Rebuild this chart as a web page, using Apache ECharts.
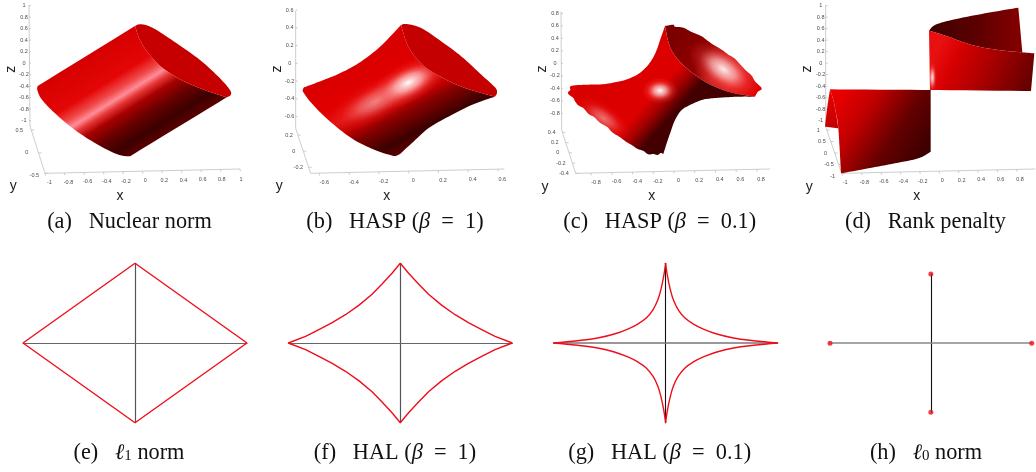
<!DOCTYPE html>
<html><head><meta charset="utf-8">
<style>html,body{margin:0;padding:0;background:#fff}#chart{width:1036px;height:472px;filter:blur(0.35px)}</style>
<script src="https://cdn.jsdelivr.net/npm/echarts@6/dist/echarts.min.js"></script>
</head><body><div id="chart"></div>
<script>
// ---------- caption text ----------
const captions = [
  '{n|(a)   Nuclear norm}', '{n|(b)   HASP (}{i|β}{n|  =  1)}', '{n|(c)   HASP (}{i|β}{n|  =  0.1)}', '{n|(d)   Rank penalty}',
  '{n|(e)   }{i|ℓ}{s|1}{n| norm}', '{n|(f)   HAL (}{i|β}{n|  =  1)}', '{n|(g)   HAL (}{i|β}{n|  =  0.1)}', '{n|(h)   }{i|ℓ}{s|0}{n| norm}'
];
// ---------- tick labels of the four 3D panels ----------
const zTicksA = ['1','0.8','0.6','0.4','0.2','0','-0.2','-0.4','-0.6','-0.8','-1'];
const yTicksA = ['0.5','0','-0.5'];
const xTicksA = ['-1','-0.8','-0.6','-0.4','-0.2','0','0.2','0.4','0.6','0.8','1'];
const zTicksB = ['0.6','0.4','0.2','0','-0.2','-0.4','-0.6'];
const yTicksB = ['0.2','0','-0.2'];
const xTicksB = ['-0.6','-0.4','-0.2','0','0.2','0.4','0.6'];
const zTicksC = ['0.8','0.6','0.4','0.2','0','-0.2','-0.4','-0.6','-0.8'];
const yTicksC = ['0.4','0.2','0','-0.2','-0.4'];
const xTicksC = ['-0.8','-0.6','-0.4','-0.2','0','0.2','0.4','0.6','0.8'];
const zTicksD = ['1','0.8','0.6','0.4','0.2','0','-0.2','-0.4','-0.6','-0.8','-1'];
const yTicksD = ['1','0.5','0','-0.5','-1'];
const xTicksD = ['-1','-0.8','-0.6','-0.4','-0.2','0','0.2','0.4','0.6','0.8'];

// ---------- traced surface outlines (panel units); each outline is a list of arcs ----------
const capLowA = [[405,78],[425,130],[470,188],[530,232],[600,265],[680,292]];
const lateralA = [[[113,258],[405,78]], capLowA, [[680,292],[398,464]],
  [[398,464],[385,469],[350,462],[290,432],[225,390],[165,340],[125,298],[112,270],[113,258]]];
const capA = [[[405,78],[418,73],[440,76],[470,90],[530,130],[600,180],[660,235],[690,270],[692,285],[680,292]], capLowA.slice().reverse()];

const capLowB = [[408,75],[430,140],[470,192],[530,232],[600,264],[690,290]];
const lateralB = [[[117,262],[160,246],[220,222],[280,190],[340,145],[380,105],[408,75]], capLowB,
  [[690,290],[620,315],[550,350],[490,385],[440,430],[405,462]],
  [[405,462],[390,468],[375,465],[330,450],[260,415],[190,360],[140,310],[117,280],[113,270],[117,262]]];
const capB = [[[408,75],[425,72],[470,85],[530,125],[590,170],[650,225],[690,262],[696,278],[690,290]], capLowB.slice().reverse()];

const capLowC = [[420,78],[430,125],[445,160],[480,200],[540,245],[610,275],[690,290]];
const lateralC = [[[130,275],[136,270],[135,260],[150,256],[190,254],[230,253],[270,247],[300,240],[335,225],[360,205],[380,180],[395,150],[407,115],[420,78]], capLowC,
  [[690,290],[645,290],[600,292],[560,295],[530,300],[495,315],[470,330],[450,360],[437,395],[425,430],[415,462]],
  [[415,462],[407,459],[398,465],[385,462],[370,463],[354,452],[338,447],[320,435],[303,425],[284,411],[262,397],[247,381],[226,369],[207,351],[191,342],[176,325],[160,316],[150,304],[145,294],[130,282],[130,275]]];
const capC = [[[420,78],[445,74],[450,80],[475,83],[500,96],[530,109],[560,131],[590,149],[610,164],[628,175],[650,198],[662,211],[680,227],[690,244],[710,265],[698,276],[690,290]], capLowC.slice().reverse()];

const sheetEdgeD = [[432,92],[450,97],[490,110],[560,135],[640,150],[712,157]];
const backTipD = [[[135,268],[127,320],[120,380]], [[120,380],[160,385]], [[160,385],[153,340],[145,300],[135,268]]];
const frontLeftD = [[[135,268],[437,270]], [[437,270],[437,455]], [[437,455],[400,475],[330,490],[250,505],[168,520]], [[168,520],[160,385],[153,340],[145,300],[135,268]]];
const backRightD = [[[432,92],[450,75],[500,60],[600,40],[700,23]], [[700,23],[712,157]], sheetEdgeD.slice().reverse()];
const frontRightD = [sheetEdgeD, [[712,157],[748,160]], [[748,160],[738,273]], [[738,273],[435,270]], [[435,270],[432,92]]];

// ---------- bottom row curves, first quadrant ----------
const l1Quadrant = [[0,1],[1,0]];
const halOneQuadrant = [[0,1],[0.074,0.875],[0.163,0.74],[0.252,0.612],[0.371,0.472],[0.49,0.355],[0.608,0.255],[0.727,0.167],[0.846,0.083],[1,0]];
const halTenthQuadrant = [[0,1],[0.015,0.854],[0.039,0.688],[0.069,0.542],[0.113,0.417],[0.173,0.3125],[0.248,0.2375],[0.337,0.175],[0.457,0.1125],[0.606,0.0625],[0.785,0.029],[1,0]];
const l0Points = [[-1,0],[1,0],[0,1],[0,-1]];

// ---------- shading (styles) ----------
const stopsOf = a => a.map(s => ({offset:s[0], color:s[1]}));
const glow = (c,rx,ry,deg,alpha) => ({ellipse:c, rx:rx, ry:ry, deg:deg, stops:[[0,'rgba(255,255,255,'+alpha+')'],[0.35,'rgba(255,190,190,'+(alpha*0.75)+')'],[0.7,'rgba(255,90,90,'+(alpha*0.25)+')'],[1,'rgba(255,60,60,0)']]});

const panelA = [
  {outline:lateralA, fill:{a:[112,262], b:[283,537], stops:[[0,'#d60000'],[0.3,'#e40606'],[0.41,'#f04848'],[0.48,'#ff8d98'],[0.54,'#e63636'],[0.62,'#a80000'],[0.75,'#680000'],[0.89,'#3c0000'],[1,'#5a0000']]}},
  {outline:capA, fill:{c:'#c60000'}}
];
const panelB = [
  {outline:lateralB, fill:{a:[300,175], b:[438,441], stops:[[0,'#d80000'],[0.3,'#e20000'],[0.45,'#e21010'],[0.56,'#c80000'],[0.68,'#860000'],[0.89,'#3c0000'],[1,'#5a0000']]}},
  {outline:lateralB, fill:glow([335,302],170,62,27.5,0.5)},
  {outline:lateralB, fill:glow([430,248],125,60,27.5,1)},
  {outline:capB, fill:{c:'#c40000'}}
];
const panelC = [
  {outline:capC, fill:{a:[440,110], b:[700,285], stops:[[0,'#7a0000'],[0.35,'#900000'],[0.55,'#d02020'],[0.72,'#e02020'],[1,'#e00000']]}},
  {outline:capC, fill:glow([595,208],120,62,-35,0.92)},
  {outline:lateralC, fill:{a:[200,220], b:[480,470], stops:[[0,'#d80000'],[0.48,'#de0000'],[0.58,'#a80000'],[0.7,'#440000'],[0.88,'#420000'],[1,'#500000']]}},
  {outline:lateralC, fill:glow([405,272],55,40,0,1)},
  {outline:lateralC, fill:glow([235,355],95,42,-35,0.45)}
];
const panelD = [
  {outline:backTipD, fill:{a:[120,290], b:[160,380], stops:[[0,'#e80000'],[1,'#c00000']]}},
  {outline:backRightD, fill:{a:[440,100], b:[710,100], stops:[[0,'#400000'],[0.5,'#5c0000'],[1,'#860000']]}},
  {outline:frontRightD, fill:{a:[440,180], b:[710,310], stops:[[0,'#e81010'],[0.2,'#d80000'],[0.55,'#a80000'],[1,'#640000']]}},
  {outline:frontRightD, fill:glow([442,232],14,50,0,0.9)},
  {outline:frontLeftD, fill:{a:[180,265], b:[430,430], stops:[[0,'#e80000'],[0.3,'#c00000'],[0.68,'#640000'],[1,'#3e0000']]}}
];

// ---------- 3D frame layout, panel units ----------
const frames = [
  {z:[[87,15],[90,378]], y:[[90,378],[135,520]], x:[[135,520],[720,507]],
   zTicks:zTicksA, yTicks:yTicksA, xTicks:xTicksA,
   zLab:[[72,17],[72,362]], yLab:[[58,390],[103,527]], xLab:[[148,547],[723,537]], xTick:[135,720],
   xName:[360,587], yName:[40,558], zName:[32,208]},
  {z:[[92,33],[92,385]], y:[[92,385],[137,520]], x:[[137,520],[718,507]],
   zTicks:zTicksB, yTicks:yTicksB, xTicks:xTicksB,
   zLab:[[74,30],[74,350]], yLab:[[72,405],[100,502]], xLab:[[178,548],[712,537]], xTick:[163,698],
   xName:[365,587], yName:[43,558], zName:[35,207]},
  {z:[[108,35],[110,390]], y:[[110,390],[152,520]], x:[[152,520],[735,507]],
   zTicks:zTicksC, yTicks:yTicksC, xTicks:xTicksC,
   zLab:[[90,40],[90,340]], yLab:[[80,397],[117,520]], xLab:[[213,547],[708,537]], xTick:[198,695],
   xName:[380,587], yName:[60,561], zName:[50,207]},
  {z:[[122,15],[122,380]], y:[[122,380],[170,520]], x:[[170,520],[751,507]],
   zTicks:zTicksD, yTicks:yTicksD, xTicks:xTicksD,
   zLab:[[107,17],[107,362]], yLab:[[100,390],[143,528]], xLab:[[180,548],[705,537]], xTick:[172,695],
   xName:[395,587], yName:[73,561], zName:[65,207]}
];

// ---------- layout ----------
const topPanels = [
  {left:0, width:260, xMax:780},
  {left:265, width:260, xMax:780},
  {left:525, width:260, xMax:780},
  {left:785, width:251, xMax:753}
];
const bottomPanels = [
  {left:23, right:247, top:263.3, bottom:422.7, hColor:'#666', hWidth:1.2, vColor:'#555', vWidth:1.2},
  {left:288.3, right:512.3, top:263.3, bottom:422.7, hColor:'#666', hWidth:1.2, vColor:'#555', vWidth:1.2},
  {left:553.5, right:777.7, top:263.3, bottom:422.7, hColor:'#777', hWidth:1.5, vColor:'#111', vWidth:1.1},
  {left:830, right:1031.7, top:274, bottom:412.3, hColor:'#888', hWidth:1.5, vColor:'#111', vWidth:1.1}
];
const captionPos = [[129.5,225.5],[395,225.5],[659.7,225.5],[925.5,225.5],[129,456],[395,456],[659.7,456],[926,456]];

const grids=[], xAxes=[], yAxes=[], series=[];
const lerp=(a,b,t)=>[a[0]+(b[0]-a[0])*t, a[1]+(b[1]-a[1])*t];

topPanels.forEach((p,i)=>{
  grids.push({left:p.left, top:0, width:p.width, height:235});
  xAxes.push({type:'value', gridIndex:i, min:0, max:p.xMax, show:false});
  yAxes.push({type:'value', gridIndex:i, min:0, max:705, inverse:true, show:false});
});
bottomPanels.forEach((p,k)=>{
  const i=k+4;
  grids.push({left:p.left, top:p.top, width:p.right-p.left, height:p.bottom-p.top});
  xAxes.push({type:'value', gridIndex:i, min:-1, max:1, splitLine:{show:false}, axisTick:{show:false}, axisLabel:{show:false},
    axisLine:{show:true, onZero:true, lineStyle:{color:p.hColor, width:p.hWidth}}});
  yAxes.push({type:'value', gridIndex:i, min:-1, max:1, splitLine:{show:false}, axisTick:{show:false}, axisLabel:{show:false},
    axisLine:{show:true, onZero:true, lineStyle:{color:p.vColor, width:p.vWidth}}});
});

// draws an arc through its traced points as a smooth curve
function strokeArc(arc, out){
  const n=arc.length;
  for(let i=0;i<n-1;i++){
    const p0=arc[Math.max(i-1,0)],p1=arc[i],p2=arc[i+1],p3=arc[Math.min(i+2,n-1)];
    for(let s=0;s<8;s++){
      const t=s/8,t2=t*t,t3=t2*t;
      out.push([0,1].map(d=>0.5*(2*p1[d]+(p2[d]-p0[d])*t+(2*p0[d]-5*p1[d]+4*p2[d]-p3[d])*t2+(3*p1[d]-p0[d]-3*p2[d]+p3[d])*t3)));
    }
  }
}
function outlinePx(outline, api){
  const pts=[]; outline.forEach(a=>strokeArc(a,pts));
  return pts.map(q=>api.coord(q));
}
function surfaceElement(p, api){
  const pts=outlinePx(p.outline,api), f=p.fill;
  if(f.ellipse){
    // an elliptical highlight: the polygon is drawn in the ellipse's own unit frame
    const c=api.coord(f.ellipse), th=f.deg*Math.PI/180, co=Math.cos(th), si=Math.sin(th);
    const rx=f.rx/3, ry=f.ry/3;
    const local=pts.map(q=>{const dx=q[0]-c[0],dy=q[1]-c[1];return [(dx*co-dy*si)/rx,(dx*si+dy*co)/ry];});
    return {type:'polygon', x:c[0], y:c[1], rotation:th, scaleX:rx, scaleY:ry, shape:{points:local},
      style:{fill:{type:'radial',x:0,y:0,r:1,colorStops:stopsOf(f.stops),global:true}}};
  }
  if(f.c) return {type:'polygon', shape:{points:pts}, style:{fill:f.c}};
  const a=api.coord(f.a), b=api.coord(f.b);
  return {type:'polygon', shape:{points:pts}, style:{fill:{type:'linear',x:a[0],y:a[1],x2:b[0],y2:b[1],colorStops:stopsOf(f.stops),global:true}}};
}

[panelA,panelB,panelC,panelD].forEach((patches,i)=>{
  series.push({type:'custom', xAxisIndex:i, yAxisIndex:i, clip:false, silent:true, z:3,
    data:patches.map((_,k)=>[k]),
    encode:{x:0},
    renderItem:(params,api)=>surfaceElement(patches[params.dataIndex],api)});
});

const frameLine='#c0c0c0', tickText='#4a4a4a';
frames.forEach((f,i)=>{
  series.push({type:'custom', xAxisIndex:i, yAxisIndex:i, clip:false, silent:true, z:2,
    data:[[0]], encode:{x:0},
    renderItem:(params,api)=>{
      const ch=[];
      const line=(a,b)=>{const A=api.coord(a),B=api.coord(b);
        ch.push({type:'line',shape:{x1:A[0],y1:A[1],x2:B[0],y2:B[1]},style:{stroke:frameLine,lineWidth:0.8}});};
      const label=(t,q)=>{const Q=api.coord(q);
        ch.push({type:'text',style:{text:t,x:Q[0],y:Q[1],fontSize:5.5,fontFamily:'Liberation Sans',fill:tickText,align:'center',verticalAlign:'middle'}});};
      const name=(t,q,rot)=>{const Q=api.coord(q);
        ch.push({type:'text',x:Q[0],y:Q[1],rotation:rot||0,style:{text:t,fontSize:14,fontFamily:'Liberation Sans',fill:'#222',align:'center',verticalAlign:'middle'}});};
      line(f.z[0],f.z[1]); line(f.y[0],f.y[1]); line(f.x[0],f.x[1]);
      f.zTicks.forEach((t,k)=>{const q=lerp(f.zLab[0],f.zLab[1],k/(f.zTicks.length-1)); label(t,q);
        const ax=f.z[0][0]; line([ax,q[1]],[ax+6,q[1]]);});
      f.yTicks.forEach((t,k)=>{const q=lerp(f.yLab[0],f.yLab[1],k/(f.yTicks.length-1)); label(t,q);
        const s=(q[1]-f.y[0][1])/(f.y[1][1]-f.y[0][1]); const on=lerp(f.y[0],f.y[1],Math.min(1,Math.max(0,s)));
        line(on,[on[0]+9,on[1]]);});
      f.xTicks.forEach((t,k)=>{const s=k/(f.xTicks.length-1); label(t,lerp(f.xLab[0],f.xLab[1],s));
        const tx=f.xTick[0]+(f.xTick[1]-f.xTick[0])*s;
        const ty=f.x[0][1]+(f.x[1][1]-f.x[0][1])*(tx-f.x[0][0])/(f.x[1][0]-f.x[0][0]);
        line([tx,ty],[tx+1,ty+7]);});
      name('x',f.xName); name('y',f.yName); name('z',f.zName,Math.PI/2);
      return {type:'group',children:ch};
    }});
});

const signs=[[1,1],[-1,1],[-1,-1],[1,-1]];
[l1Quadrant,halOneQuadrant,halTenthQuadrant].forEach((q,k)=>{
  signs.forEach(s=>{
    series.push({type:'line', xAxisIndex:k+4, yAxisIndex:k+4, showSymbol:false, smooth:k===2?0.4:false, silent:true, z:4,
      lineStyle:{color:'#f00d1a', width:1.4, join:'round'},
      data:q.map(v=>[v[0]*s[0], v[1]*s[1]])});
  });
});
series.push({type:'scatter', xAxisIndex:7, yAxisIndex:7, symbolSize:5, silent:true, z:4, itemStyle:{color:'#f00d1a'}, data:l0Points});

const rich={
  n:{fontFamily:'Liberation Serif', fontSize:22.3, fontWeight:'normal', color:'#111'},
  i:{fontFamily:'Liberation Serif', fontSize:22.3, fontStyle:'italic', fontWeight:'normal', color:'#111'},
  s:{fontFamily:'Liberation Serif', fontSize:15, fontWeight:'normal', color:'#111', verticalAlign:'bottom', padding:[7,0,0,0]}
};
const titles=captions.map((t,i)=>({text:t, left:captionPos[i][0], top:captionPos[i][1]-14, padding:0, textAlign:'center', textStyle:{fontWeight:'normal', rich:rich}}));

const chart=echarts.init(document.getElementById('chart'),null,{renderer:'canvas'});
chart.setOption({animation:false, backgroundColor:'#fff', title:titles, tooltip:{show:false}, grid:grids, xAxis:xAxes, yAxis:yAxes, series:series});
</script>
</body></html>
